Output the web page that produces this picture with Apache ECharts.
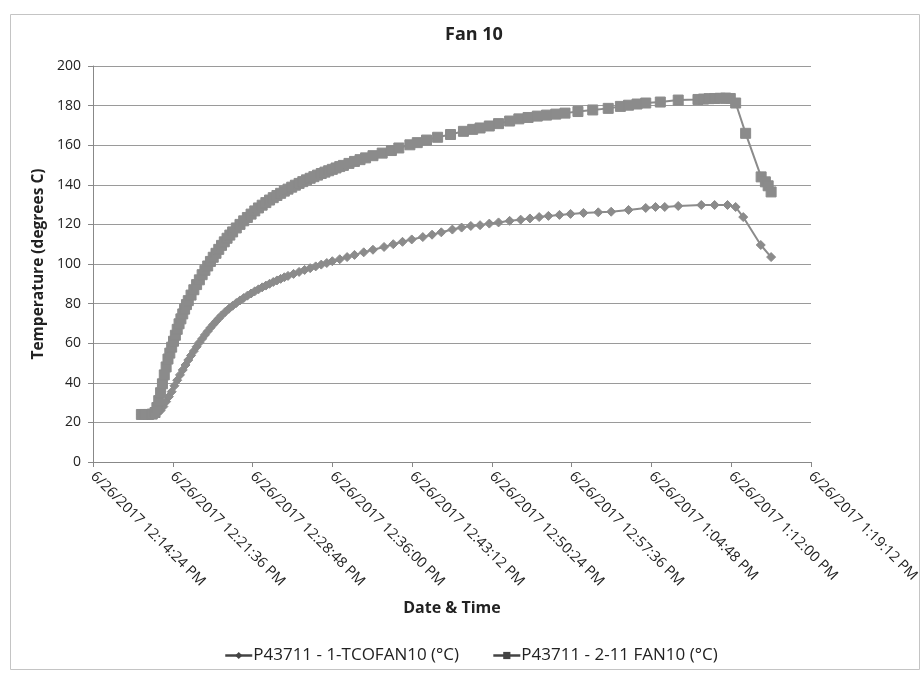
<!DOCTYPE html>
<html><head><meta charset="utf-8">
<script src="https://cdn.jsdelivr.net/npm/echarts@6/dist/echarts.min.js"></script>
<style>html,body{margin:0;padding:0;background:#fff}#c{width:923px;height:675px}</style>
</head><body><div id="c"></div>
<script>
const chartTitle = 'Fan 10';
const dateLabel = '6/26/2017';
const xAxisTitle = 'Date & Time';
const yAxisTitle = 'Temperature (degrees C)';
const seriesNames = ['P43711 - 1-TCOFAN10 (°C)', 'P43711 - 2-11 FAN10 (°C)'];
const xAxisStart = '12:14:24';
const xAxisEnd = '13:19:12';
const xTickStepSeconds = 432;
const yAxisMin = 0, yAxisMax = 200, yTickStep = 20;

// Series 1: 1-TCOFAN10 (diamonds)
const tcoTimes = ['12:18:46','12:19:05','12:19:25','12:19:45','12:20:00','12:20:15','12:20:30','12:20:45','12:21:00','12:21:15','12:21:30','12:21:45','12:22:00','12:22:15','12:22:30','12:22:45','12:23:00','12:23:15','12:23:30','12:23:45','12:24:00','12:24:15','12:24:30','12:24:45','12:25:00','12:25:15','12:25:30','12:25:45','12:26:00','12:26:20','12:26:40','12:27:00','12:27:20','12:27:40','12:28:00','12:28:20','12:28:40','12:29:00','12:29:20','12:29:40','12:30:00','12:30:20','12:30:40','12:31:00','12:31:20','12:31:40','12:32:00','12:32:30','12:33:00','12:33:30','12:34:00','12:34:30','12:35:00','12:35:30','12:36:00','12:36:40','12:37:20','12:38:00','12:38:50','12:39:40','12:40:40','12:41:30','12:42:20','12:43:10','12:44:10','12:45:00','12:45:50','12:46:50','12:47:40','12:48:30','12:49:20','12:50:10','12:51:00','12:52:00','12:53:00','12:53:50','12:54:40','12:55:30','12:56:30','12:57:30','12:58:40','13:00:00','13:01:10','13:02:44','13:04:17','13:05:10','13:06:00','13:07:13','13:09:18','13:10:30','13:11:40','13:12:24','13:13:05','13:14:40','13:15:36'];
const tcoValues = [24.0,24.0,24.0,24.0,24.2,24.8,26.0,28.0,30.5,33.0,35.5,38.5,41.3,44.0,46.5,49.0,51.5,53.8,56.0,58.2,60.3,62.2,64.2,66.0,67.8,69.4,71.0,72.5,74.0,75.8,77.4,78.9,80.3,81.6,82.8,84.0,85.1,86.2,87.2,88.2,89.1,90.0,90.9,91.7,92.5,93.3,94.0,95.0,96.0,97.0,97.9,98.8,99.7,100.5,101.4,102.4,103.5,104.6,105.9,107.2,108.6,110.0,111.2,112.4,113.6,114.8,116.0,117.4,118.4,119.2,119.6,120.4,121.0,121.8,122.4,123.0,123.7,124.3,124.8,125.3,125.8,126.1,126.4,127.3,128.3,128.8,128.8,129.3,129.8,129.8,129.8,128.8,123.7,109.6,103.5];

// Series 2: 2-11 FAN10 (squares)
const fanTimes = ['12:18:46','12:19:05','12:19:25','12:19:45','12:20:00','12:20:10','12:20:20','12:20:30','12:20:40','12:20:50','12:21:00','12:21:10','12:21:20','12:21:30','12:21:40','12:21:50','12:22:00','12:22:10','12:22:20','12:22:30','12:22:40','12:22:50','12:23:00','12:23:15','12:23:30','12:23:45','12:24:00','12:24:15','12:24:30','12:24:45','12:25:00','12:25:15','12:25:30','12:25:45','12:26:00','12:26:15','12:26:30','12:26:45','12:27:00','12:27:20','12:27:40','12:28:00','12:28:20','12:28:40','12:29:00','12:29:20','12:29:40','12:30:00','12:30:20','12:30:40','12:31:00','12:31:20','12:31:40','12:32:00','12:32:20','12:32:40','12:33:00','12:33:20','12:33:40','12:34:00','12:34:20','12:34:40','12:35:00','12:35:20','12:35:40','12:36:00','12:36:20','12:36:40','12:37:00','12:37:30','12:38:00','12:38:30','12:39:00','12:39:40','12:40:30','12:41:20','12:42:00','12:43:00','12:43:40','12:44:30','12:45:30','12:46:40','12:47:50','12:48:40','12:49:20','12:50:10','12:51:00','12:52:00','12:52:50','12:53:40','12:54:30','12:55:20','12:56:10','12:57:00','12:58:10','12:59:30','13:00:54','13:02:00','13:02:44','13:03:30','13:04:17','13:05:36','13:07:13','13:09:00','13:09:30','13:10:00','13:10:30','13:11:00','13:11:30','13:11:55','13:12:24','13:13:18','13:14:42','13:15:05','13:15:20','13:15:36'];
const fanValues = [24.0,24.0,24.0,24.2,25.0,27.5,31.0,35.0,39.5,44.0,48.0,52.0,55.0,58.0,61.0,64.0,67.0,69.8,72.3,74.8,77.2,79.5,81.5,84.3,87.0,89.6,92.0,94.6,96.8,99.0,101.3,103.4,105.4,107.4,109.4,111.2,113.0,114.6,116.2,118.2,120.0,121.8,123.5,125.2,126.8,128.3,129.7,131.0,132.3,133.5,134.6,135.7,136.8,137.8,138.8,139.8,140.7,141.6,142.5,143.3,144.1,144.9,145.7,146.4,147.1,147.8,148.5,149.2,149.8,150.8,151.8,152.7,153.6,154.7,156.0,157.3,158.6,160.2,161.3,162.6,164.0,165.4,167.0,168.0,168.7,169.7,170.9,172.2,173.3,174.0,174.7,175.2,175.7,176.2,177.0,177.8,178.6,179.6,180.2,180.8,181.3,181.8,182.8,183.1,183.3,183.5,183.6,183.7,183.8,183.6,181.3,166.0,144.0,141.5,139.5,136.4];

function toSec(t) {
  const p = t.split(':').map(Number);
  return p[0] * 3600 + p[1] * 60 + p[2];
}
function pad(n) { return (n < 10 ? '0' : '') + n; }
function fmtTime(sec) {
  sec = Math.round(sec);
  const h = Math.floor(sec / 3600), m = Math.floor((sec % 3600) / 60), s = sec % 60;
  const h12 = h > 12 ? h - 12 : (h === 0 ? 12 : h);
  return dateLabel + ' ' + h12 + ':' + pad(m) + ':' + pad(s) + ' ' + (h >= 12 ? 'PM' : 'AM');
}
function pairs(times, values) { return times.map((t, i) => [toSec(t), values[i]]); }

const FONT = 'Open Sans';
const GRAY = '#8b8b8b';
const chart = echarts.init(document.getElementById('c'), null, { renderer: 'canvas' });
chart.setOption({
  animation: false,
  backgroundColor: '#fff',
  graphic: [{
    type: 'rect', shape: { x: 10.5, y: 14.5, width: 909, height: 655 },
    style: { fill: 'none', stroke: '#c4c4c4', lineWidth: 1 }, silent: true
  }],
  title: {
    text: chartTitle, left: 440, top: 21,
    textStyle: { fontFamily: FONT, fontSize: 18, fontWeight: 'bold', color: '#222' }
  },
  grid: { left: 93, right: 112, top: 66, bottom: 213, containLabel: false },
  legend: {
    left: 219, top: 642,
    itemWidth: 27, itemHeight: 9, itemGap: 33,
    textStyle: { fontFamily: FONT, fontSize: 17, color: '#222', padding: [0, 0, 0, -4] },
    itemStyle: { color: '#444' },
    lineStyle: { color: '#444', width: 2.5 },
    data: seriesNames
  },
  xAxis: {
    type: 'value',
    min: toSec(xAxisStart), max: toSec(xAxisEnd), interval: xTickStepSeconds,
    name: xAxisTitle, nameLocation: 'middle', nameGap: 138,
    nameTextStyle: { fontFamily: FONT, fontSize: 16, fontWeight: 'bold', color: '#222' },
    axisLine: { show: true, lineStyle: { color: '#888', width: 1 } },
    axisTick: { show: true, length: 5, lineStyle: { color: '#888' } },
    splitLine: { show: false },
    axisLabel: {
      rotate: -45, margin: 12, fontFamily: FONT, fontSize: 14.5, color: '#222',
      formatter: v => fmtTime(v), showMaxLabel: true, showMinLabel: true
    }
  },
  yAxis: {
    type: 'value', min: yAxisMin, max: yAxisMax, interval: yTickStep,
    name: yAxisTitle, nameLocation: 'middle', nameGap: 43,
    nameTextStyle: { fontFamily: FONT, fontSize: 15.5, fontWeight: 'bold', color: '#222' },
    axisLine: { show: true, lineStyle: { color: '#888', width: 1 } },
    axisTick: { show: true, length: 5, lineStyle: { color: '#888' } },
    splitLine: { show: true, lineStyle: { color: '#9a9a9a', width: 1 } },
    axisLabel: { margin: 12, fontFamily: FONT, fontSize: 14, color: '#222' }
  },
  series: [
    {
      name: seriesNames[0], type: 'line', data: pairs(tcoTimes, tcoValues),
      symbol: 'diamond', symbolSize: 9, showAllSymbol: true,
      itemStyle: { color: GRAY, borderColor: GRAY },
      lineStyle: { color: GRAY, width: 2 }
    },
    {
      name: seriesNames[1], type: 'line', data: pairs(fanTimes, fanValues),
      symbol: 'rect', symbolSize: 10, showAllSymbol: true,
      itemStyle: { color: GRAY, borderColor: GRAY },
      lineStyle: { color: GRAY, width: 2 }
    }
  ]
});
</script>
</body></html>
